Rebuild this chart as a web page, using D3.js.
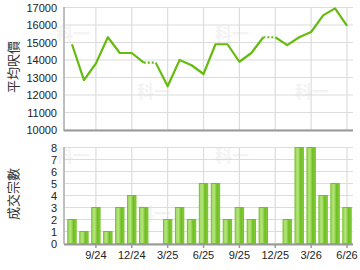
<!DOCTYPE html>
<html>
  <head>
    <meta charset="UTF-8">
    <title>平均呎價 / 成交宗數</title>
    <script src="https://cdn.jsdelivr.net/npm/d3@7"></script>
    <style>
      body { margin: 0; background: #fff; }
      svg { display: block; font-family: "Liberation Sans", Arial, sans-serif; }
      .tick text { fill: #222; font-size: 11px; }
      .ytitle { font-family: "Noto Sans CJK TC", sans-serif; font-size: 13px; fill: #333; }
      .wm { font-family: "Noto Sans CJK TC", sans-serif; font-size: 17px; font-weight: bold; fill: #f3f3f3; }
    </style>
  </head>
  <body>
    <svg width="360" height="270"></svg>
  </body>
  <script>

    // months shown, one point / bar each
    var months = ["7/24","8/24","9/24","10/24","11/24","12/24","1/25","2/25","3/25","4/25","5/25","6/25",
                  "7/25","8/25","9/25","10/25","11/25","12/25","1/26","2/26","3/26","4/26","5/26","6/26"];
    // average price per sq ft (null = no deal that month)
    var avgPrice = [14900, 12850, 13800, 15300, 14400, 14400, 13850, null, 12500, 14000, 13700, 13200,
                    14900, 14900, 13900, 14400, 15300, null, 14850, 15300, 15600, 16550, 16950, 15950];
    // number of deals
    var deals = [2, 1, 3, 1, 3, 4, 3, 0, 2, 3, 2, 5, 5, 2, 3, 2, 3, 0, 2, 8, 8, 4, 5, 3];
    var tickMonths = ["9/24","12/24","3/25","6/25","9/25","12/25","3/26","6/26"];
    var priceTicks = [10000, 11000, 12000, 13000, 14000, 15000, 16000, 17000];
    var dealTicks = [0, 1, 2, 3, 4, 5, 6, 7, 8];

    var svg = d3.select("svg");
    var left = 64, right = 353;

    var x = d3.scaleBand().domain(months).range([66, 353]).paddingInner(0.3).paddingOuter(0.15);
    function cx(m) { return x(m) + x.bandwidth() / 2; }

    var yP = d3.scaleLinear().domain([10000, 17000]).range([130, 7.5]);
    var yD = d3.scaleLinear().domain([0, 8]).range([243.5, 147.5]);

    var green = "#66bb0f";

    // gradient for the bars
    var grad = svg.append("defs").append("linearGradient").attr("id", "barg")
      .attr("x1", 0).attr("x2", 1).attr("y1", 0).attr("y2", 0);
    grad.append("stop").attr("offset", "0%").attr("stop-color", "#9ed85e");
    grad.append("stop").attr("offset", "35%").attr("stop-color", "#b4e47c");
    grad.append("stop").attr("offset", "70%").attr("stop-color", "#6cbd1c");
    grad.append("stop").attr("offset", "100%").attr("stop-color", "#8ccf48");

    function watermarks(y0) {
      [[56, y0], [137, y0 + 58], [215, y0], [295, y0 + 58]].forEach(function(p) {
        svg.append("text").attr("class", "wm").attr("x", p[0]).attr("y", p[1]).text("科一");
      });
    }

    function grid(yScale, ticks, yTop, yBot) {
      var g = svg.append("g");
      g.selectAll(".hg").data(ticks).enter().append("line")
        .attr("x1", left).attr("x2", right)
        .attr("y1", function(d) { return yScale(d); }).attr("y2", function(d) { return yScale(d); })
        .attr("stroke", "#dcdcdc").attr("stroke-width", 1.2);
      g.selectAll(".vg").data(tickMonths).enter().append("line")
        .attr("x1", cx).attr("x2", cx).attr("y1", yTop).attr("y2", yBot)
        .attr("stroke", "#dcdcdc").attr("stroke-width", 1.2);
    }

    // ---- top chart: average price ----
    watermarks(40);
    grid(yP, priceTicks, 7.5, 130);

    svg.append("g").attr("transform", "translate(" + left + ",0)")
      .call(d3.axisLeft(yP).tickValues(priceTicks).tickSize(0).tickPadding(7).tickFormat(d3.format("d")))
      .call(function(g) { g.select(".domain").remove(); });

    svg.append("line").attr("x1", left).attr("x2", left).attr("y1", 7).attr("y2", 131)
      .attr("stroke", "#aaa").attr("stroke-width", 1.5);
    svg.append("line").attr("x1", left).attr("x2", right).attr("y1", 130.5).attr("y2", 130.5)
      .attr("stroke", "#999").attr("stroke-width", 2);

    // carry previous value into empty months, drawn dotted
    var filled = [], last = null;
    avgPrice.forEach(function(v) { if (v != null) last = v; filled.push(last); });
    var pts = months.map(function(m, i) { return [cx(m), yP(filled[i])]; });

    var runs = [], cur = [pts[0]];
    for (var i = 1; i < pts.length; i++) {
      if (avgPrice[i] == null) {
        if (cur.length > 1) runs.push(cur);
        svg.append("line").attr("x1", pts[i - 1][0]).attr("y1", pts[i - 1][1])
          .attr("x2", pts[i][0]).attr("y2", pts[i][1])
          .attr("stroke", green).attr("stroke-width", 2.2).attr("stroke-dasharray", "2,2");
        cur = [pts[i]];
      } else {
        cur.push(pts[i]);
      }
    }
    if (cur.length > 1) runs.push(cur);

    var line = d3.line();
    svg.selectAll(".run").data(runs).enter().append("path")
      .attr("d", line).attr("fill", "none").attr("stroke", green)
      .attr("stroke-width", 2.2).attr("stroke-linejoin", "round");

    svg.append("text").attr("class", "ytitle")
      .attr("transform", "translate(18,67) rotate(-90)").attr("text-anchor", "middle").text("平均呎價");

    // ---- bottom chart: number of deals ----
    watermarks(162);
    grid(yD, dealTicks, 147.5, 243.5);

    svg.append("g").attr("transform", "translate(" + left + ",0)")
      .call(d3.axisLeft(yD).tickValues(dealTicks).tickSize(0).tickPadding(7))
      .call(function(g) { g.select(".domain").remove(); });

    var barData = months.map(function(m, i) { return { m: m, v: deals[i] }; })
      .filter(function(d) { return d.v > 0; });

    svg.selectAll(".bar").data(barData).enter().append("rect")
      .attr("x", function(d) { return x(d.m); })
      .attr("width", x.bandwidth())
      .attr("y", function(d) { return yD(d.v); })
      .attr("height", function(d) { return yD(0) - yD(d.v); })
      .attr("fill", "url(#barg)").attr("stroke", "#72c224").attr("stroke-width", 1);

    svg.append("line").attr("x1", left).attr("x2", left).attr("y1", 147).attr("y2", 244)
      .attr("stroke", "#aaa").attr("stroke-width", 1.5);

    svg.append("g").attr("transform", "translate(0,244)")
      .call(d3.axisBottom(x).tickValues(tickMonths).tickSize(4).tickPadding(3))
      .call(function(g) {
        g.select(".domain").attr("d", "M" + left + ",0.5H" + right).attr("stroke", "#999").attr("stroke-width", 2);
        g.selectAll(".tick line").attr("stroke", "#999").attr("stroke-width", 1.5);
      });

    svg.append("text").attr("class", "ytitle")
      .attr("transform", "translate(18,194) rotate(-90)").attr("text-anchor", "middle").text("成交宗數");

  </script>
</html>
